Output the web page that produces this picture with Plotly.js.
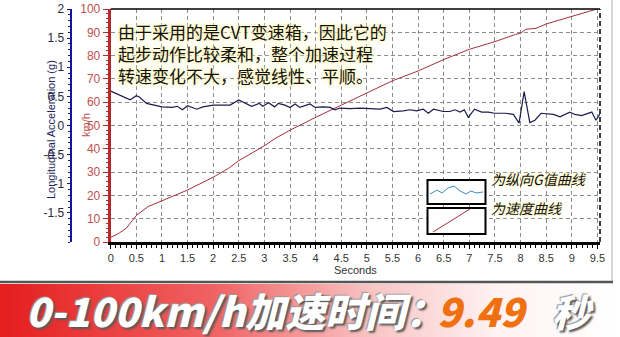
<!DOCTYPE html>
<html><head><meta charset="utf-8">
<script src="https://cdn.plot.ly/plotly-3.0.1.min.js"></script>
<style>html,body{margin:0;padding:0;background:#fff;}#chart{width:620px;height:337px;}</style>
</head><body><div id="chart"></div>
<script>
// ---- data ----
const speedTime = [0, 0.15, 0.3, 0.5, 0.73, 1.0, 1.5, 2.0, 2.3, 2.5, 3.0, 3.2, 3.5, 4.0, 4.5, 5.0, 5.5, 6.0, 6.5, 7.0, 7.5, 7.9, 8.0, 8.1, 8.3, 8.5, 9.0, 9.49];
const speedKmh  = [2, 3.6, 5.8, 11.4, 15.2, 17.7, 22.3, 27.8, 31.6, 34.9, 41.3, 44.3, 48, 53.5, 58.8, 63.8, 69.2, 73.4, 78.3, 82.7, 86, 89.1, 89.6, 91.3, 91.7, 93.6, 97, 100];

const gTime = [0, 0.38, 0.5, 0.56, 0.7, 1.0, 1.2, 1.3, 1.4, 1.5, 1.68, 1.8, 2.0, 2.33, 2.5, 2.75, 2.9, 2.97, 3.08, 3.2,
  3.27, 3.40, 3.50, 3.60, 3.69, 3.82, 3.89, 3.99, 4.15, 4.28, 4.38, 4.47, 4.67, 4.87, 5.06, 5.26, 5.39, 5.52, 5.71, 5.84,
  5.97, 6.10, 6.20, 6.30, 6.49, 6.62, 6.72, 6.82, 6.90, 6.98, 7.10, 7.24, 7.37, 7.49, 7.70, 7.86, 7.97, 8.07, 8.18, 8.28,
  8.40, 8.54, 8.64, 8.77, 8.96, 9.06, 9.19, 9.39, 9.47, 9.55];
const gValue = [0.59, 0.44, 0.51, 0.49, 0.38, 0.32, 0.31, 0.33, 0.27, 0.34, 0.28, 0.32, 0.35, 0.35, 0.44, 0.33, 0.38, 0.33, 0.39, 0.32,
  0.38, 0.35, 0.31, 0.37, 0.31, 0.35, 0.37, 0.31, 0.32, 0.31, 0.27, 0.30, 0.29, 0.30, 0.29, 0.28, 0.31, 0.24, 0.25, 0.27,
  0.25, 0.28, 0.21, 0.28, 0.24, 0.24, 0.27, 0.23, 0.27, 0.14, 0.28, 0.23, 0.23, 0.21, 0.21, 0.19, 0.04, 0.58, 0.05, 0.09,
  0.21, 0.20, 0.19, 0.15, 0.23, 0.19, 0.17, 0.23, 0.09, 0.20];

const xTickVals = [0,0.5,1,1.5,2,2.5,3,3.5,4,4.5,5,5.5,6,6.5,7,7.5,8,8.5,9,9.5];
const gTickVals = [-1.5,-1,-0.5,0,0.5,1,1.5,2];
const kmhTickVals = [0,10,20,30,40,50,60,70,80,90,100];

const noteText = '由于采用的是CVT变速箱，因此它的<br>起步动作比较柔和，整个加速过程<br>转速变化不大，感觉线性、平顺。';
const legendG = '为纵向G值曲线';
const legendV = '为速度曲线';
const bannerText = '0-100km/h加速时间：';
const bannerValue = '9.49';
const bannerUnit = '秒';

// ---- pixel helpers (plot area: left margin 0, top 9, bottom at 242, width 600) ----
const L = 0, T = 9, W = 600, H = 233;
const px = v => (v - L) / W;
const py = v => (T + H - v) / H;

const CJK = '"Noto Sans CJK SC", "Noto Sans", sans-serif';
const LAT = '"Liberation Sans", Arial, sans-serif';

const traces = [
  {x: gTime, y: gValue, yaxis: 'y2', type: 'scatter', mode: 'lines',
   line: {color: '#1c1c4e', width: 1.2}, hoverinfo: 'skip'},
  {x: speedTime, y: speedKmh, yaxis: 'y', type: 'scatter', mode: 'lines',
   line: {color: '#a3303c', width: 1}, hoverinfo: 'skip'}
];

const bannerSvg = '<svg xmlns="http://www.w3.org/2000/svg" width="620" height="54"><defs><linearGradient id="g" x1="0" x2="1" y1="0" y2="0"><stop offset="0" stop-color="#e51d1d"/><stop offset="0.35" stop-color="#f06464"/><stop offset="0.6" stop-color="#f9c4c4"/><stop offset="0.8" stop-color="#fff2f2"/><stop offset="1" stop-color="#ffffff"/></linearGradient></defs><rect width="620" height="54" fill="url(#g)"/></svg>';

// wave in legend box 1
let wave = '';
const waveX = [430, 437, 442, 448, 454, 460, 466, 471, 476, 483];
const waveY = [194, 190, 193, 188, 186, 191, 194, 191, 193, 192];
waveX.forEach((xv, i) => { wave += (i ? ' L ' : 'M ') + px(xv) + ',' + py(waveY[i]); });

const layout = {
  width: 620, height: 337,
  margin: {l: L, r: 20, t: T, b: 95},
  paper_bgcolor: '#ffffff', plot_bgcolor: '#ffffff',
  showlegend: false,
  xaxis: {
    domain: [110.7 / 600, 1], range: [0, 9.55],
    tickvals: xTickVals, ticktext: xTickVals.map(String),
    showgrid: true, gridcolor: '#8c8c8c', griddash: '4px,3px', gridwidth: 1,
    showline: true, linecolor: '#000', linewidth: 3,
    ticks: 'outside', ticklen: 4, tickcolor: '#000', tickwidth: 1,
    minor: {dtick: 0.1, tick0: 0, ticks: 'outside', ticklen: 3, tickcolor: '#000', showgrid: false},
    tickfont: {family: LAT, size: 11, color: '#333'},
    title: {text: 'Seconds', font: {family: LAT, size: 11, color: '#333'}, standoff: 3},
    zeroline: false, fixedrange: true
  },
  yaxis: {
    range: [0, 100], tickvals: kmhTickVals,
    showgrid: true, gridcolor: '#8c8c8c', griddash: '4px,3px', gridwidth: 1,
    showline: true, linecolor: '#b32b2b', linewidth: 3,
    ticks: 'outside', ticklen: 5, tickcolor: '#b32b2b', tickwidth: 1,
    minor: {dtick: 2, ticks: 'outside', ticklen: 2, tickcolor: '#b32b2b', showgrid: false},
    tickfont: {family: LAT, size: 12, color: '#c0504d'},
    zeroline: false, fixedrange: true
  },
  yaxis2: {
    overlaying: 'y', side: 'left', anchor: 'free', position: 70.7 / 600,
    range: [-2, 2], tickvals: gTickVals, ticktext: gTickVals.map(String),
    showgrid: false, zeroline: false,
    showline: true, linecolor: '#14149c', linewidth: 2.5,
    ticks: 'outside', ticklen: 3, tickcolor: '#14149c',
    minor: {dtick: 0.1, ticks: 'outside', ticklen: 2, tickcolor: '#14149c'},
    tickfont: {family: LAT, size: 12, color: '#2a2a3a'},
    fixedrange: true
  },
  shapes: [
    // top border
    {type: 'line', xref: 'paper', yref: 'paper', x0: 110.7/600, x1: 1, y0: 1, y1: 1, line: {color: '#000', width: 1.5}},
    // right dashed border
    {type: 'line', xref: 'paper', yref: 'paper', x0: 1, x1: 1, y0: 0, y1: 1, line: {color: '#000', width: 1.5, dash: '5px,3px'}},
    // outer frame
    {type: 'line', xref: 'paper', yref: 'paper', x0: px(612), x1: px(612), y0: py(282), y1: py(0), line: {color: '#c8c8c8', width: 1.5}},
    {type: 'line', xref: 'paper', yref: 'paper', x0: px(0), x1: px(613), y0: py(282), y1: py(282), line: {color: '#555', width: 2.5}},
    // legend boxes
    {type: 'rect', xref: 'paper', yref: 'paper', x0: px(427.5), x1: px(485.5), y0: py(180), y1: py(204), line: {color: '#000', width: 2}, fillcolor: '#fff'},
    {type: 'rect', xref: 'paper', yref: 'paper', x0: px(427.5), x1: px(485.5), y0: py(208), y1: py(234), line: {color: '#000', width: 2}, fillcolor: '#fff'},
    {type: 'path', xref: 'paper', yref: 'paper', path: wave, line: {color: '#3a8fb5', width: 1}},
    {type: 'line', xref: 'paper', yref: 'paper', x0: px(433), x1: px(470), y0: py(232), y1: py(209), line: {color: '#a3303c', width: 1}}
  ],
  images: [
    {source: 'data:image/svg+xml;charset=utf-8,' + encodeURIComponent(bannerSvg),
     xref: 'paper', yref: 'paper', x: px(0), y: py(284), sizex: 620 / W, sizey: (337 - 284) / H,
     sizing: 'stretch', xanchor: 'left', yanchor: 'top', layer: 'below'}
  ],
  annotations: [
    {text: 'Longitudinal Acceleration (g)', xref: 'paper', yref: 'paper', x: px(43), y: py(130),
     textangle: -90, showarrow: false, font: {family: LAT, size: 11, color: '#1e1e5a'}},
    {text: 'km/h', xref: 'paper', yref: 'paper', x: px(78), y: py(125),
     textangle: -90, showarrow: false, font: {family: LAT, size: 11, color: '#c0504d'}},
    {text: noteText, xref: 'paper', yref: 'paper', x: px(116), y: py(53), xanchor: 'left', yanchor: 'middle',
     align: 'left', showarrow: false,
     font: {family: CJK, size: 17, color: '#111', shadow: '0 0 3px #fff6b0, 0 0 6px #fff6b0, 0 0 8px #fffad0'}},
    {text: legendG, xref: 'paper', yref: 'paper', x: px(489), y: py(191), xanchor: 'left', showarrow: false,
     font: {family: CJK, size: 14, color: '#111', style: 'italic', shadow: '0 0 3px #fff6b0, 0 0 6px #fff6b0'}},
    {text: legendV, xref: 'paper', yref: 'paper', x: px(489), y: py(220), xanchor: 'left', showarrow: false,
     font: {family: CJK, size: 14, color: '#111', style: 'italic', shadow: '0 0 3px #fff6b0, 0 0 6px #fff6b0'}},
    {text: bannerText, xref: 'paper', yref: 'paper', x: px(24), y: py(310), xanchor: 'left', yanchor: 'middle', showarrow: false,
     font: {family: CJK, size: 40, color: '#ffffff', weight: 900, style: 'italic', shadow: '2px 2px 2px #5a5a5a, -1px -1px 1px #999'}},
    {text: bannerValue, xref: 'paper', yref: 'paper', x: px(483), y: py(310), xanchor: 'center', yanchor: 'middle', showarrow: false,
     font: {family: CJK, size: 40, color: '#f07010', weight: 900, style: 'italic'}},
    {text: bannerUnit, xref: 'paper', yref: 'paper', x: px(573), y: py(310), xanchor: 'center', yanchor: 'middle', showarrow: false,
     font: {family: CJK, size: 38, color: '#ffffff', weight: 900, style: 'italic', shadow: '2px 2px 2px #5a5a5a, -1px -1px 1px #999'}}
  ]
};

Plotly.newPlot('chart', traces, layout, {staticPlot: true, displayModeBar: false});
</script></body></html>
